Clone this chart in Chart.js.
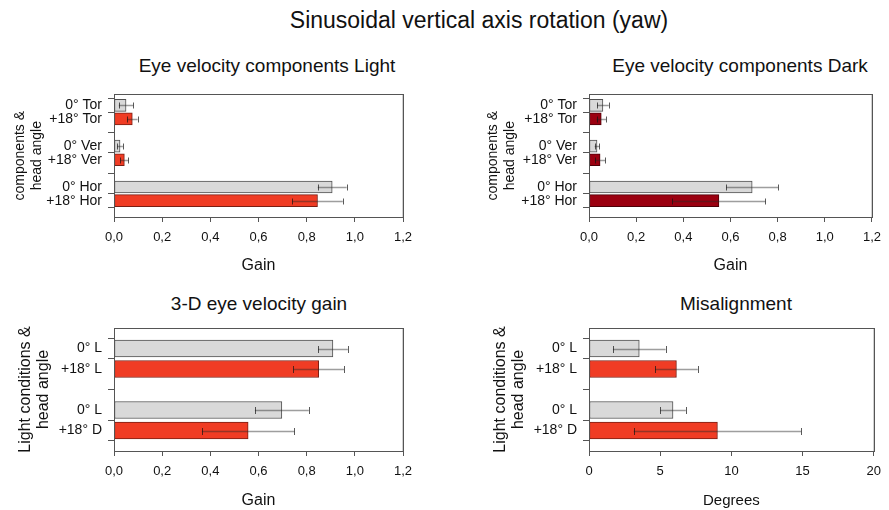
<!DOCTYPE html>
<html>
<head>
<meta charset="utf-8">
<script src="https://cdn.jsdelivr.net/npm/chart.js@4.4.1/dist/chart.umd.min.js"></script>
<style>
  body { margin: 0; width: 889px; height: 510px; background: #fff; position: relative; overflow: hidden;
         font-family: "Liberation Sans", Arial, sans-serif; color: #111; }
  canvas { position: absolute; }
  .ttl { position: absolute; width: 400px; text-align: center; line-height: 1; white-space: nowrap; }
</style>
</head>
<body>
<div class="ttl" style="left:279px;top:9px;font-size:23px;">Sinusoidal vertical axis rotation (yaw)</div>
<div class="ttl" style="left:67px;top:56px;font-size:19px;">Eye velocity components Light</div>
<div class="ttl" style="left:540px;top:56px;font-size:19px;">Eye velocity components Dark</div>
<div class="ttl" style="left:59px;top:294px;font-size:19px;">3-D eye velocity gain</div>
<div class="ttl" style="left:536px;top:294px;font-size:19px;">Misalignment</div>

<canvas id="light" width="445" height="200" style="left:0;top:80px"></canvas>
<canvas id="dark" width="444" height="200" style="left:445px;top:80px"></canvas>
<canvas id="gain3d" width="445" height="200" style="left:0;top:310px"></canvas>
<canvas id="misalign" width="444" height="200" style="left:445px;top:310px"></canvas>

<script>
// DATA
const compLabels = ["0° Tor", "+18° Tor", "0° Ver", "+18° Ver", "0° Hor", "+18° Hor"];
const compPos = [1, 2, 4, 5, 7, 8];
const lightGain = [0.05, 0.076, 0.025, 0.043, 0.906, 0.845];
const lightErr = [0.03, 0.022, 0.012, 0.017, 0.06, 0.105];
const darkGain = [0.059, 0.052, 0.034, 0.047, 0.692, 0.551];
const darkErr = [0.025, 0.02, 0.01, 0.022, 0.11, 0.197];

const condLabels = ["0° L", "+18° L", "0° L", "+18° D"];
const condPos = [1, 2, 4, 5];
const gain3d = [0.909, 0.85, 0.697, 0.557];
const gain3dErr = [0.062, 0.105, 0.112, 0.192];
const misalign = [3.53, 6.14, 5.9, 9.02];
const misalignErr = [1.85, 1.5, 0.9, 5.88];

const gainTicks = [0, 0.2, 0.4, 0.6, 0.8, 1.0, 1.2];
const degreeTicks = [0, 5, 10, 15, 20];

const FONT = "'Liberation Sans', Arial, sans-serif";
const GREY = "#d9d9d9", RED = "#f03c24", DARKRED = "#9b0010";

// error bars drawn through the x scale
const errorBars = {
  id: 'errorBars',
  afterDatasetsDraw(chart) {
    const ctx = chart.ctx;
    const xs = chart.scales.x;
    chart.data.datasets.forEach((ds, di) => {
      const meta = chart.getDatasetMeta(di);
      meta.data.forEach((bar, i) => {
        const v = ds.data[i].x, e = ds.errors[i];
        const x1 = xs.getPixelForValue(v - e), x2 = xs.getPixelForValue(v + e);
        const y = Math.round(bar.y) + 0.5, c = ds.cap;
        ctx.save();
        ctx.strokeStyle = 'rgba(40,40,40,0.45)';
        ctx.lineWidth = 1.5;
        ctx.beginPath(); ctx.moveTo(x1, y); ctx.lineTo(x2, y); ctx.stroke();
        ctx.strokeStyle = 'rgba(20,20,20,0.7)';
        ctx.lineWidth = 1;
        ctx.beginPath();
        ctx.moveTo(Math.round(x1) + 0.5, y - c); ctx.lineTo(Math.round(x1) + 0.5, y + c);
        ctx.moveTo(Math.round(x2) + 0.5, y - c); ctx.lineTo(Math.round(x2) + 0.5, y + c);
        ctx.stroke();
        ctx.restore();
      });
    });
  }
};

// box around the plot area
const frame = {
  id: 'frame',
  afterDraw(chart) {
    const {ctx, chartArea: a} = chart;
    ctx.save();
    ctx.strokeStyle = '#d0d0d0';
    ctx.lineWidth = 1;
    ctx.beginPath();
    ctx.moveTo(Math.round(a.right) - 0.5, Math.round(a.top) + 1);
    ctx.lineTo(Math.round(a.right) - 0.5, Math.round(a.bottom));
    ctx.stroke();
    ctx.strokeStyle = '#555';
    ctx.strokeRect(Math.round(a.left) + 0.5, Math.round(a.top) + 0.5,
                   Math.round(a.right - a.left), Math.round(a.bottom - a.top));
    ctx.restore();
  }
};

function makePanel(id, p) {
  const colors = p.labels.map(l => l.startsWith('0°') ? GREY : p.color);
  const borders = p.labels.map(l => l.startsWith('0°') ? '#505050' : p.border);
  new Chart(document.getElementById(id), {
    type: 'bar',
    data: {
      datasets: [{
        data: p.values.map((v, i) => ({x: v, y: p.pos[i]})),
        errors: p.errors,
        cap: p.cap,
        backgroundColor: colors,
        borderColor: borders,
        borderWidth: 1,
        borderSkipped: false,
        barThickness: p.thickness
      }]
    },
    options: {
      indexAxis: 'y',
      responsive: false,
      animation: false,
      devicePixelRatio: 1,
      layout: { autoPadding: false, padding: p.padding },
      plugins: { legend: { display: false }, tooltip: { enabled: false } },
      scales: {
        x: {
          type: 'linear',
          min: p.xTicks[0],
          max: p.xTicks[p.xTicks.length - 1],
          afterBuildTicks: s => { s.ticks = p.xTicks.map(v => ({value: v})); },
          afterFit: s => { s.height = p.xHeight; },
          grid: { drawOnChartArea: false, tickLength: 5, color: '#555' },
          border: { display: false },
          ticks: {
            padding: 8, color: '#111', font: { family: FONT, size: 13 },
            callback: p.xFormat
          },
          title: {
            display: true, text: p.xTitle, color: '#111',
            font: { family: FONT, size: p.xTitleSize }, padding: { top: 0, bottom: p.xTitlePad }
          }
        },
        y: {
          type: 'linear',
          reverse: true,
          offset: false,
          min: p.yRange[0],
          max: p.yRange[1],
          afterBuildTicks: s => { s.ticks = p.pos.map(v => ({value: v})); },
          afterFit: s => { s.width = p.yWidth; },
          grid: { drawOnChartArea: false, tickLength: 6, color: '#555' },
          border: { display: false },
          ticks: {
            autoSkip: false, padding: 6, color: '#111', font: { family: FONT, size: 14 },
            callback: v => p.labels[p.pos.indexOf(v)]
          },
          title: {
            display: true, text: p.yTitle, color: '#111',
            font: { family: FONT, size: p.yTitleSize, lineHeight: p.yTitleLH },
            padding: { top: p.yTitlePad, bottom: 0 }
          }
        }
      }
    },
    plugins: [errorBars, frame]
  });
}

const gainFmt = v => v.toFixed(1).replace('.', ',');

makePanel('light', {
  labels: compLabels, pos: compPos, values: lightGain, errors: lightErr,
  color: RED, border: '#7a1f14', thickness: 12, cap: 3,
  yRange: [0.2, 9.2], xTicks: gainTicks, xFormat: gainFmt, xTitle: 'Gain', xTitleSize: 16, xTitlePad: 2,
  yTitle: ['components &', 'head angle'], yTitleSize: 14, yTitleLH: 1.2, yTitlePad: 12,
  yWidth: 114, xHeight: 60, padding: { top: 11, right: 42, bottom: 3, left: 0 }
});

makePanel('dark', {
  labels: compLabels, pos: compPos, values: darkGain, errors: darkErr,
  color: DARKRED, border: '#4d0008', thickness: 12, cap: 3,
  yRange: [0.2, 9.2], xTicks: gainTicks, xFormat: gainFmt, xTitle: 'Gain', xTitleSize: 16, xTitlePad: 2,
  yTitle: ['components &', 'head angle'], yTitleSize: 14, yTitleLH: 1.2, yTitlePad: 40,
  yWidth: 144, xHeight: 60, padding: { top: 11, right: 11, bottom: 3, left: 0 }
});

makePanel('gain3d', {
  labels: condLabels, pos: condPos, values: gain3d, errors: gain3dErr,
  color: RED, border: '#7a1f14', thickness: 17, cap: 3.5,
  yRange: [0, 6], xTicks: gainTicks, xFormat: gainFmt, xTitle: 'Gain', xTitleSize: 16, xTitlePad: 0,
  yTitle: ['Light conditions &', 'head angle'], yTitleSize: 16, yTitleLH: 1.1, yTitlePad: 17,
  yWidth: 114, xHeight: 59, padding: { top: 18, right: 42, bottom: 0, left: 0 }
});

makePanel('misalign', {
  labels: condLabels, pos: condPos, values: misalign, errors: misalignErr,
  color: RED, border: '#7a1f14', thickness: 17, cap: 3.5,
  yRange: [0, 6], xTicks: degreeTicks, xFormat: v => String(v), xTitle: 'Degrees', xTitleSize: 15, xTitlePad: 0,
  yTitle: ['Light conditions &', 'head angle'], yTitleSize: 16, yTitleLH: 1.1, yTitlePad: 47,
  yWidth: 144, xHeight: 59, padding: { top: 18, right: 11, bottom: 0, left: 0 }
});
</script>
</body>
</html>
